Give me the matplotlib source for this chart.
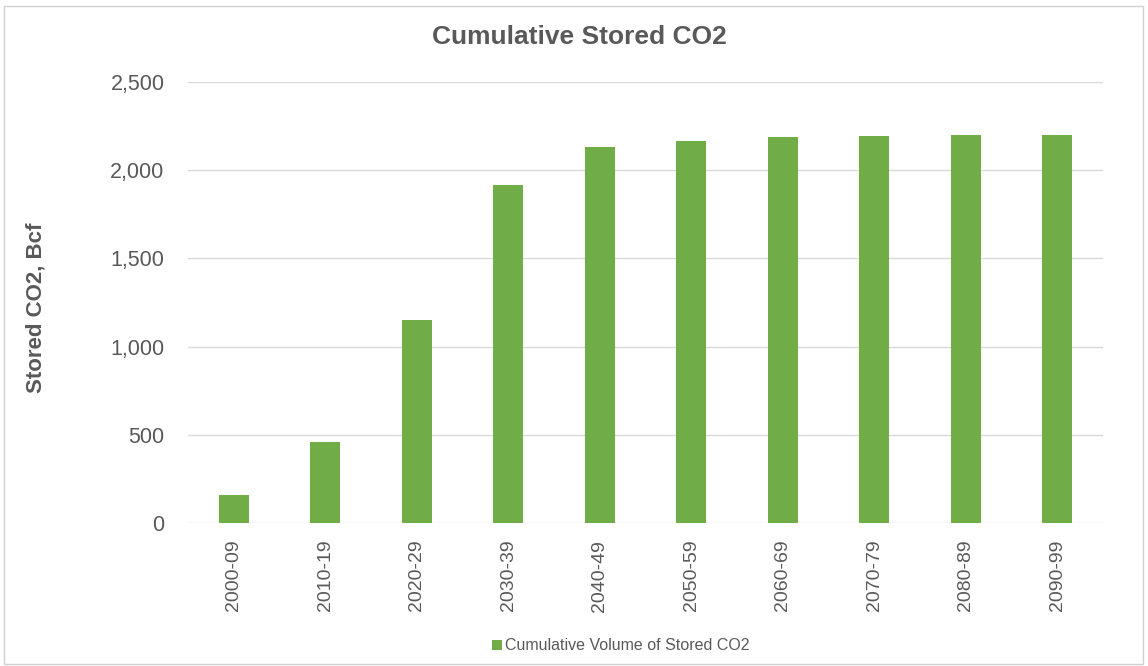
import matplotlib
matplotlib.use("Agg")
import matplotlib.pyplot as plt
from matplotlib.patches import Rectangle

# data
decades = ["2000-09", "2010-19", "2020-29", "2030-39", "2040-49",
           "2050-59", "2060-69", "2070-79", "2080-89", "2090-99"]
stored_bcf = [160, 460, 1150, 1915, 2130, 2165, 2188, 2195, 2200, 2200]
series_name = "Cumulative Volume of Stored CO2"

green = "#70AD47"
grey_txt = "#595959"

plt.rcParams['font.family'] = ['Liberation Sans', 'DejaVu Sans']

fig = plt.figure(figsize=(11.48, 6.66), dpi=100)
ax = fig.add_axes([188/1148, 1 - 523/666, (1103 - 188)/1148, (523 - 82)/666])

x = range(len(decades))
ax.bar(x, stored_bcf, width=0.33, color=green, label=series_name, zorder=3)

ax.set_xlim(-0.5, len(decades) - 0.5)
ax.set_ylim(0, 2500)
ax.set_yticks(range(0, 2501, 500))
ax.set_yticklabels([f"{v:,}" for v in range(0, 2501, 500)])
ax.set_xticks(list(x))
ax.set_xticklabels(decades, rotation=90)

ax.grid(axis="y", color="#D9D9D9", linewidth=1, zorder=0)
for s in ax.spines.values():
    s.set_visible(False)
ax.tick_params(axis="y", length=0, pad=17, labelsize=15.5, labelcolor=grey_txt)
ax.tick_params(axis="x", length=0, pad=12, labelsize=14, labelcolor=grey_txt)

fig.text(0.505, 1 - 37/666, "Cumulative Stored CO2", ha="center", va="center",
         fontsize=19, fontweight="bold", color=grey_txt)
fig.text(36/1148, 1 - 308/666, "Stored CO2, Bcf", ha="center", va="center",
         rotation=90, fontsize=16, fontweight="bold", color=grey_txt)

fig.legend(loc="center", bbox_to_anchor=(621/1148, 1 - 646/666), frameon=False,
           fontsize=11.5, labelcolor=grey_txt, handlelength=0.6, handleheight=0.6,
           handletextpad=0.2)

# light frame round the chart area
fig.patches.append(Rectangle((4/1148, 2/666), 1139/1148, 658/666,
                             transform=fig.transFigure, fill=False,
                             edgecolor="#D0D0D0", linewidth=1))

fig.savefig("out.png", dpi=100)
